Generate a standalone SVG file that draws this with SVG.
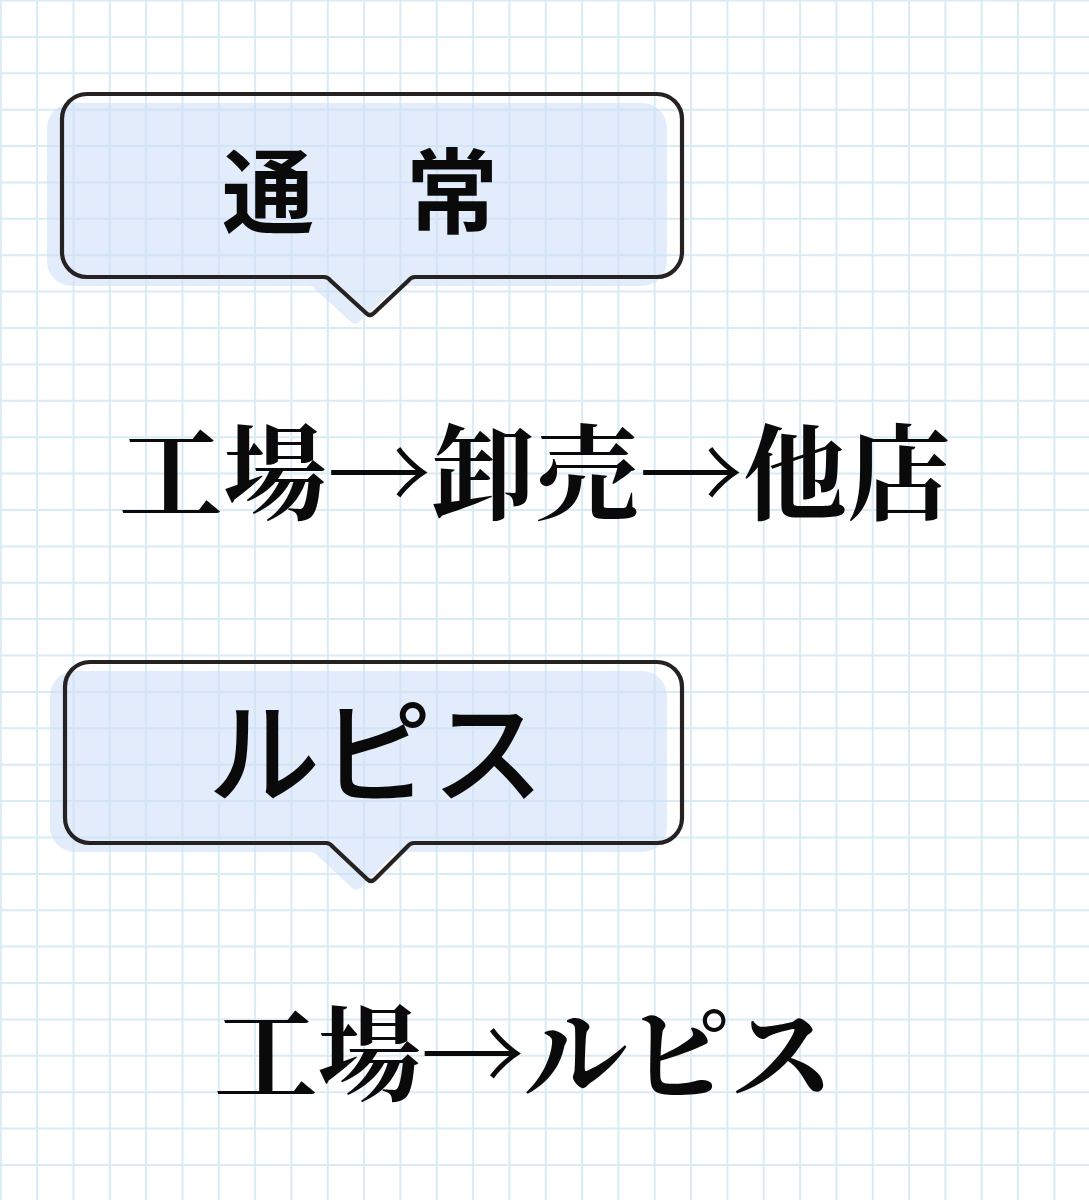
<svg xmlns="http://www.w3.org/2000/svg" width="1089" height="1200" viewBox="0 0 1089 1200">
  <defs>
    <style>
      .grid { stroke: #d9ecf4; stroke-width: 2; fill: none; }
      .shade { fill: #cfdff9; fill-opacity: 0.6; stroke: none; }
      .outline { fill: none; stroke: #262222; stroke-width: 4.2; stroke-linejoin: round; }
      .label-bold { font-family: "Noto Sans CJK JP", "Noto Sans CJK SC", sans-serif; font-weight: 700; fill: #0a0a0a; }
      .label-reg { font-family: "Noto Sans CJK JP", "Noto Sans CJK SC", sans-serif; font-weight: 500; fill: #0a0a0a; }
      .flow { font-family: "Noto Serif CJK JP", "Noto Sans CJK JP", "Noto Sans CJK SC", serif; font-weight: 700; fill: #0a0a0a; }
    </style>
    <path id="bubble1" d="M 87,94 H 657 A 25 25 0 0 1 682,119 V 252 A 25 25 0 0 1 657,277 H 415 Q 411,277 408,281 L 374,313 Q 370,317 366,313 L 331,281 Q 328,277 324,277 H 87 A 25 25 0 0 1 62,252 V 119 A 25 25 0 0 1 87,94 Z"/>
    <path id="bubble2" d="M 90,662 H 657 A 25 25 0 0 1 682,687 V 818 A 25 25 0 0 1 657,843 H 414 Q 410,843 407,847 L 375,879 Q 371,883 367,879 L 333,847 Q 330,843 326,843 H 90 A 25 25 0 0 1 65,818 V 687 A 25 25 0 0 1 90,662 Z"/>
  </defs>

  <rect x="0" y="0" width="1089" height="1200" fill="#ffffff"/>

  <g id="grid" class="grid">
    <path d="M0.8,0V1200 M37.1,0V1200 M73.5,0V1200 M109.8,0V1200 M146.1,0V1200 M182.5,0V1200 M218.8,0V1200 M255.1,0V1200 M291.4,0V1200 M327.8,0V1200 M364.1,0V1200 M400.4,0V1200 M436.8,0V1200 M473.1,0V1200 M509.4,0V1200 M545.8,0V1200 M582.1,0V1200 M618.4,0V1200 M654.7,0V1200 M691.1,0V1200 M727.4,0V1200 M763.7,0V1200 M800.1,0V1200 M836.4,0V1200 M872.7,0V1200 M909.1,0V1200 M945.4,0V1200 M981.7,0V1200 M1018,0V1200 M1054.4,0V1200"/>
    <path d="M0,0.5H1089 M0,36.9H1089 M0,73.3H1089 M0,109.7H1089 M0,146.1H1089 M0,182.5H1089 M0,218.8H1089 M0,255.2H1089 M0,291.6H1089 M0,328H1089 M0,364.4H1089 M0,400.8H1089 M0,437.2H1089 M0,473.6H1089 M0,510H1089 M0,546.4H1089 M0,582.7H1089 M0,619.1H1089 M0,655.5H1089 M0,691.9H1089 M0,728.3H1089 M0,764.7H1089 M0,801.1H1089 M0,837.5H1089 M0,873.9H1089 M0,910.3H1089 M0,946.6H1089 M0,983H1089 M0,1019.4H1089 M0,1055.8H1089 M0,1092.2H1089 M0,1128.6H1089 M0,1165H1089"/>
  </g>

  <g id="node-normal">
    <use href="#bubble1" class="shade" transform="translate(-15,9)"/>
    <use href="#bubble1" class="outline"/>
    <text class="label-bold" x="360" y="226" font-size="92" text-anchor="middle">通　常</text>
  </g>

  <g id="flow-normal">
    <text class="flow" x="119" y="512" font-size="104" textLength="832" lengthAdjust="spacing">工場→卸売→他店</text>
  </g>

  <g id="node-rupis">
    <use href="#bubble2" class="shade" transform="translate(-15,9)"/>
    <use href="#bubble2" class="outline"/>
    <text class="label-reg" x="376" y="795" font-size="112" text-anchor="middle">ルピス</text>
  </g>

  <g id="flow-rupis">
    <text class="flow" x="214" y="1093" font-size="104" textLength="620" lengthAdjust="spacing">工場→ルピス</text>
  </g>

  <g id="connectors"></g>
</svg>
